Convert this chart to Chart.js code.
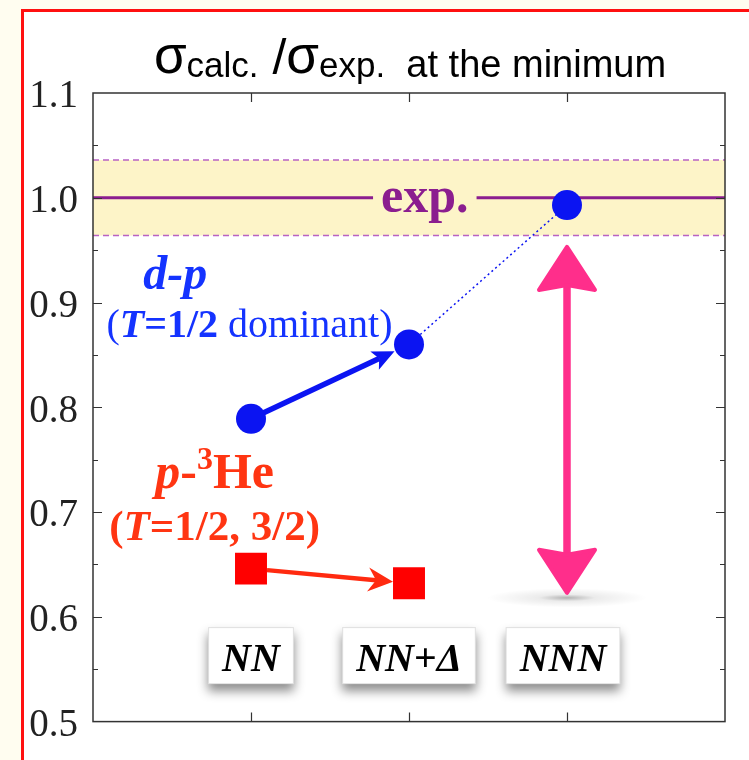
<!DOCTYPE html>
<html>
<head>
<meta charset="utf-8">
<script src="https://cdn.jsdelivr.net/npm/chart.js@4/dist/chart.umd.min.js"></script>
<style>
  html, body { margin: 0; padding: 0; background: #fffdf0; }
  canvas { display: block; }
</style>
</head>
<body>
<canvas id="c" width="749" height="760"></canvas>
<script>
// Ratio of calculated to measured cross section at the minimum
const categories = ['NN', 'NN+Δ', 'NNN'];
const dpRatio = [0.789, 0.860, 0.993];      // d-p, one per force model
const p3HeRatio = [0.646, 0.632];           // p-3He, NN and NN+Δ
const expRatio = 1.0;                       // experiment
const expBand = [0.964, 1.036];             // experimental uncertainty band
const nnnRange = [0.621, 0.955];            // spread spanned by the NNN arrow
const yTickLabels = ['0.5', '0.6', '0.7', '0.8', '0.9', '1.0', '1.1'];

const SERIF = '"Liberation Serif", "Times New Roman", serif';
const SANS = '"Liberation Sans", Arial, sans-serif';
const BLUE = '#0b14f2';
const BLUE_TXT = '#1433ff';
const RED = '#ff0000';
const RED_TXT = '#ff3512';
const PINK = '#ff2e8b';
const PURPLE = '#8b1d8f';
const BAND = '#fdf4c8';

const pts = vals => vals.map((v, i) => ({ x: i + 1, y: v }));
const span = v => [{ x: 0, y: v }, { x: 4, y: v }];

function drawRich(ctx, parts, cx, baseY) {
  let total = 0;
  parts.forEach(p => { ctx.font = p.font; p.w = ctx.measureText(p.t).width; total += p.w; });
  let x = cx - total / 2;
  ctx.textAlign = 'left';
  ctx.textBaseline = 'alphabetic';
  parts.forEach(p => {
    ctx.font = p.font;
    ctx.fillStyle = p.color;
    ctx.fillText(p.t, x, baseY + (p.dy || 0));
    x += p.w;
  });
  return { left: cx - total / 2, right: cx + total / 2 };
}

function headPath(ctx, tx, ty, ang, len, hw, notch) {
  const c = Math.cos(ang), s = Math.sin(ang);
  const bx = tx - c * len, by = ty - s * len;
  const nx = -s, ny = c;
  ctx.beginPath();
  ctx.moveTo(tx, ty);
  ctx.lineTo(bx + nx * hw, by + ny * hw);
  ctx.lineTo(tx - c * (len - notch), ty - s * (len - notch));
  ctx.lineTo(bx - nx * hw, by - ny * hw);
  ctx.closePath();
}

function arrow(ctx, x0, y0, x1, y1, o) {
  const ang = Math.atan2(y1 - y0, x1 - x0);
  const c = Math.cos(ang), s = Math.sin(ang);
  ctx.save();
  ctx.strokeStyle = o.color;
  ctx.fillStyle = o.color;
  ctx.lineWidth = o.width;
  ctx.lineCap = 'butt';
  ctx.beginPath();
  const back = o.len - o.notch;
  ctx.moveTo(o.both ? x0 + c * back : x0, o.both ? y0 + s * back : y0);
  ctx.lineTo(x1 - c * back, y1 - s * back);
  ctx.stroke();
  ctx.lineJoin = 'round';
  ctx.lineWidth = o.round || 0.01;
  headPath(ctx, x1, y1, ang, o.len, o.hw, o.notch);
  ctx.fill(); if (o.round) ctx.stroke();
  if (o.both) {
    headPath(ctx, x0, y0, ang + Math.PI, o.len, o.hw, o.notch);
    ctx.fill(); if (o.round) ctx.stroke();
  }
  ctx.restore();
}

const decor = {
  id: 'decor',
  beforeDraw(chart) {
    const { ctx, width, height } = chart;
    ctx.save();
    ctx.fillStyle = '#fffdf0';
    ctx.fillRect(0, 0, width, height);
    ctx.fillStyle = '#ffffff';
    ctx.fillRect(22, 10, width - 22, height - 10);
    ctx.strokeStyle = '#ff1010';
    ctx.lineWidth = 3;
    ctx.beginPath();
    ctx.moveTo(22.5, height);
    ctx.lineTo(22.5, 10.5);
    ctx.lineTo(width, 10.5);
    ctx.stroke();
    ctx.restore();
  },
  beforeDatasetsDraw(chart) {
    const { ctx, chartArea: a } = chart;
    const xs = chart.scales.x, ys = chart.scales.y;

    // model labels in raised boxes
    const boxY = a.bottom - 66;
    categories.forEach((name, i) => {
      const cx = xs.getPixelForValue(i + 1) - (i === 2 ? 4 : 0);
      const parts = name === 'NN+Δ'
        ? [{ t: 'NN', font: `bold italic 40px ${SERIF}`, color: '#000' },
           { t: '+', font: `bold 40px ${SERIF}`, color: '#000' },
           { t: 'Δ', font: `bold italic 40px ${SERIF}`, color: '#000' }]
        : [{ t: name, font: `bold italic 40px ${SERIF}`, color: '#000' }];
      let tw = 0;
      parts.forEach(p => { ctx.font = p.font; tw += ctx.measureText(p.t).width; });
      const bw = tw + 28, bh = 57;
      ctx.save();
      ctx.shadowColor = 'rgba(0,0,0,0.45)';
      ctx.shadowBlur = 10;
      ctx.shadowOffsetY = 7;
      ctx.fillStyle = '#ffffff';
      ctx.fillRect(cx - bw / 2, boxY - bh / 2, bw, bh);
      ctx.restore();
      ctx.save();
      ctx.strokeStyle = 'rgba(0,0,0,0.12)';
      ctx.lineWidth = 1;
      ctx.strokeRect(cx - bw / 2 + 0.5, boxY - bh / 2 + 0.5, bw - 1, bh - 1);
      drawRich(ctx, parts, cx, boxY + 15);
      ctx.restore();
    });

    // d-p: NN -> NN+Δ
    const b0 = { x: xs.getPixelForValue(1), y: ys.getPixelForValue(dpRatio[0]) };
    const b1 = { x: xs.getPixelForValue(2), y: ys.getPixelForValue(dpRatio[1]) };
    let ang = Math.atan2(b1.y - b0.y, b1.x - b0.x);
    arrow(ctx, b0.x + Math.cos(ang) * 14, b0.y + Math.sin(ang) * 14,
      b1.x - Math.cos(ang) * 16, b1.y - Math.sin(ang) * 16,
      { color: BLUE, width: 5.5, len: 22, hw: 10, notch: 5 });

    // p-3He: NN -> NN+Δ
    const r0 = { x: xs.getPixelForValue(1), y: ys.getPixelForValue(p3HeRatio[0]) };
    const r1 = { x: xs.getPixelForValue(2), y: ys.getPixelForValue(p3HeRatio[1]) };
    ang = Math.atan2(r1.y - r0.y, r1.x - r0.x);
    arrow(ctx, r0.x + 16, r0.y + Math.tan(ang) * 16,
      r1.x - 16, r1.y - Math.tan(ang) * 16,
      { color: '#ff2a10', width: 4.5, len: 25, hw: 12, notch: 8 });

    // NNN: double arrow spanning the remaining gap
    const px = xs.getPixelForValue(3);
    const pTop = ys.getPixelForValue(nnnRange[1]);
    const pBot = ys.getPixelForValue(nnnRange[0]);
    ctx.save();
    const g = ctx.createRadialGradient(px, pBot + 3, 0, px, pBot + 3, 80);
    g.addColorStop(0, 'rgba(0,0,0,0.30)');
    g.addColorStop(0.35, 'rgba(0,0,0,0.08)');
    g.addColorStop(1, 'rgba(0,0,0,0)');
    ctx.translate(px, pBot + 3);
    ctx.scale(1, 0.12);
    ctx.translate(-px, -(pBot + 3));
    ctx.fillStyle = g;
    ctx.fillRect(px - 80, pBot + 3 - 80, 160, 160);
    ctx.restore();
    arrow(ctx, px, pTop + 2, px, pBot - 2,
      { color: PINK, width: 7.5, len: 43, hw: 28, notch: 5, both: true, round: 4 });
  },
  afterDatasetsDraw(chart) {
    const { ctx, chartArea: a } = chart;
    const xs = chart.scales.x, ys = chart.scales.y;

    // "exp." label sitting on the experimental line
    ctx.save();
    const ey = ys.getPixelForValue(expRatio);
    const ex = xs.getPixelForValue(2.1);
    ctx.font = `bold 50px ${SERIF}`;
    const ew = ctx.measureText('exp.').width;
    ctx.fillStyle = BAND;
    ctx.fillRect(ex - ew / 2 - 8, ey - 6, ew + 16, 12);
    drawRich(ctx, [{ t: 'exp.', font: `bold 50px ${SERIF}`, color: PURPLE }], ex, ey + 14);
    ctx.restore();

    // reaction labels
    ctx.save();
    drawRich(ctx, [{ t: 'd-p', font: `bold italic 48px ${SERIF}`, color: BLUE_TXT }],
      xs.getPixelForValue(0.52), ys.getPixelForValue(0.913));
    drawRich(ctx, [
      { t: '(', font: `40px ${SERIF}`, color: BLUE_TXT },
      { t: 'T', font: `bold italic 40px ${SERIF}`, color: BLUE_TXT },
      { t: '=1/2', font: `bold 40px ${SERIF}`, color: BLUE_TXT },
      { t: ' dominant)', font: `40px ${SERIF}`, color: BLUE_TXT }
    ], xs.getPixelForValue(0.99), ys.getPixelForValue(0.867));
    drawRich(ctx, [
      { t: 'p', font: `bold italic 50px ${SERIF}`, color: RED_TXT },
      { t: '-', font: `bold 50px ${SERIF}`, color: RED_TXT },
      { t: '3', font: `bold 32px ${SERIF}`, color: RED_TXT, dy: -19 },
      { t: 'He', font: `bold 50px ${SERIF}`, color: RED_TXT }
    ], xs.getPixelForValue(0.77), ys.getPixelForValue(0.723));
    drawRich(ctx, [
      { t: '(', font: `bold 43px ${SERIF}`, color: RED_TXT },
      { t: 'T', font: `bold italic 43px ${SERIF}`, color: RED_TXT },
      { t: '=1/2, 3/2)', font: `bold 43px ${SERIF}`, color: RED_TXT }
    ], xs.getPixelForValue(0.77), ys.getPixelForValue(0.673));
    ctx.restore();

    // frame with inward ticks
    ctx.save();
    ctx.strokeStyle = '#333';
    ctx.lineWidth = 1.5;
    ctx.strokeRect(a.left, a.top, a.right - a.left, a.bottom - a.top);
    ctx.lineWidth = 1.2;
    ctx.beginPath();
    for (let k = 1; k < 12; k++) {
      const v = 0.5 + k * 0.05;
      const y = Math.round(ys.getPixelForValue(v)) + 0.5;
      const len = k % 2 === 0 ? 9 : 5;
      ctx.moveTo(a.left, y); ctx.lineTo(a.left + len, y);
      ctx.moveTo(a.right, y); ctx.lineTo(a.right - len, y);
    }
    categories.forEach((_, i) => {
      const x = Math.round(xs.getPixelForValue(i + 1)) + 0.5;
      ctx.moveTo(x, a.top); ctx.lineTo(x, a.top + 9);
      ctx.moveTo(x, a.bottom); ctx.lineTo(x, a.bottom - 9);
    });
    ctx.stroke();
    ctx.restore();
  },
  afterDraw(chart) {
    const { ctx } = chart;
    ctx.save();
    drawRich(ctx, [
      { t: 'σ', font: `53px ${SANS}`, color: '#000', dy: -4 },
      { t: 'calc.', font: `35px ${SANS}`, color: '#000' },
      { t: ' /', font: `50px ${SANS}`, color: '#000', dy: -3 },
      { t: 'σ', font: `53px ${SANS}`, color: '#000', dy: -4 },
      { t: 'exp.', font: `35px ${SANS}`, color: '#000' },
      { t: '  at the minimum', font: `38px ${SANS}`, color: '#000' }
    ], 410, 77);
    ctx.restore();
  }
};

new Chart(document.getElementById('c'), {
  type: 'scatter',
  data: {
    datasets: [
      { label: 'd-p', data: pts(dpRatio), order: 0, showLine: false,
        pointStyle: 'circle', pointRadius: 15, pointHoverRadius: 15,
        backgroundColor: BLUE, borderColor: BLUE, borderWidth: 0 },
      { label: 'p-3He', data: pts(p3HeRatio), order: 1, showLine: false,
        pointStyle: 'rect', pointRadius: 22.6, pointHoverRadius: 22.6,
        backgroundColor: RED, borderColor: RED, borderWidth: 0 },
      { label: 'd-p NNN', data: pts(dpRatio).slice(1), order: 2, showLine: true,
        borderColor: BLUE, borderWidth: 1.5, borderDash: [2, 3], pointRadius: 0 },
      { label: 'exp', data: span(expRatio), order: 3, showLine: true,
        borderColor: PURPLE, borderWidth: 3, pointRadius: 0 },
      { label: 'exp upper', data: span(expBand[1]), order: 4, showLine: true,
        borderColor: '#b862c4', borderWidth: 1.5, borderDash: [6, 4], pointRadius: 0 },
      { label: 'exp lower', data: span(expBand[0]), order: 5, showLine: true, fill: '-1',
        backgroundColor: BAND,
        borderColor: '#b862c4', borderWidth: 1.5, borderDash: [6, 4], pointRadius: 0 }
    ]
  },
  options: {
    responsive: false,
    animation: false,
    devicePixelRatio: 1,
    layout: { padding: { left: 0, top: 93, right: 24, bottom: 38 } },
    plugins: { legend: { display: false }, tooltip: { enabled: false } },
    scales: {
      x: { type: 'linear', min: 0, max: 4, display: false },
      y: {
        type: 'linear', min: 0.5, max: 1.1,
        grid: { display: false, drawTicks: false },
        border: { display: false },
        afterFit: s => { s.width = 93; },
        ticks: {
          stepSize: 0.1, autoSkip: false, padding: 15, labelOffset: 4,
          color: '#222', font: { family: 'Liberation Serif', size: 39 },
          callback: (v, i) => yTickLabels[i]
        }
      }
    }
  },
  plugins: [decor]
});
</script>
</body>
</html>
